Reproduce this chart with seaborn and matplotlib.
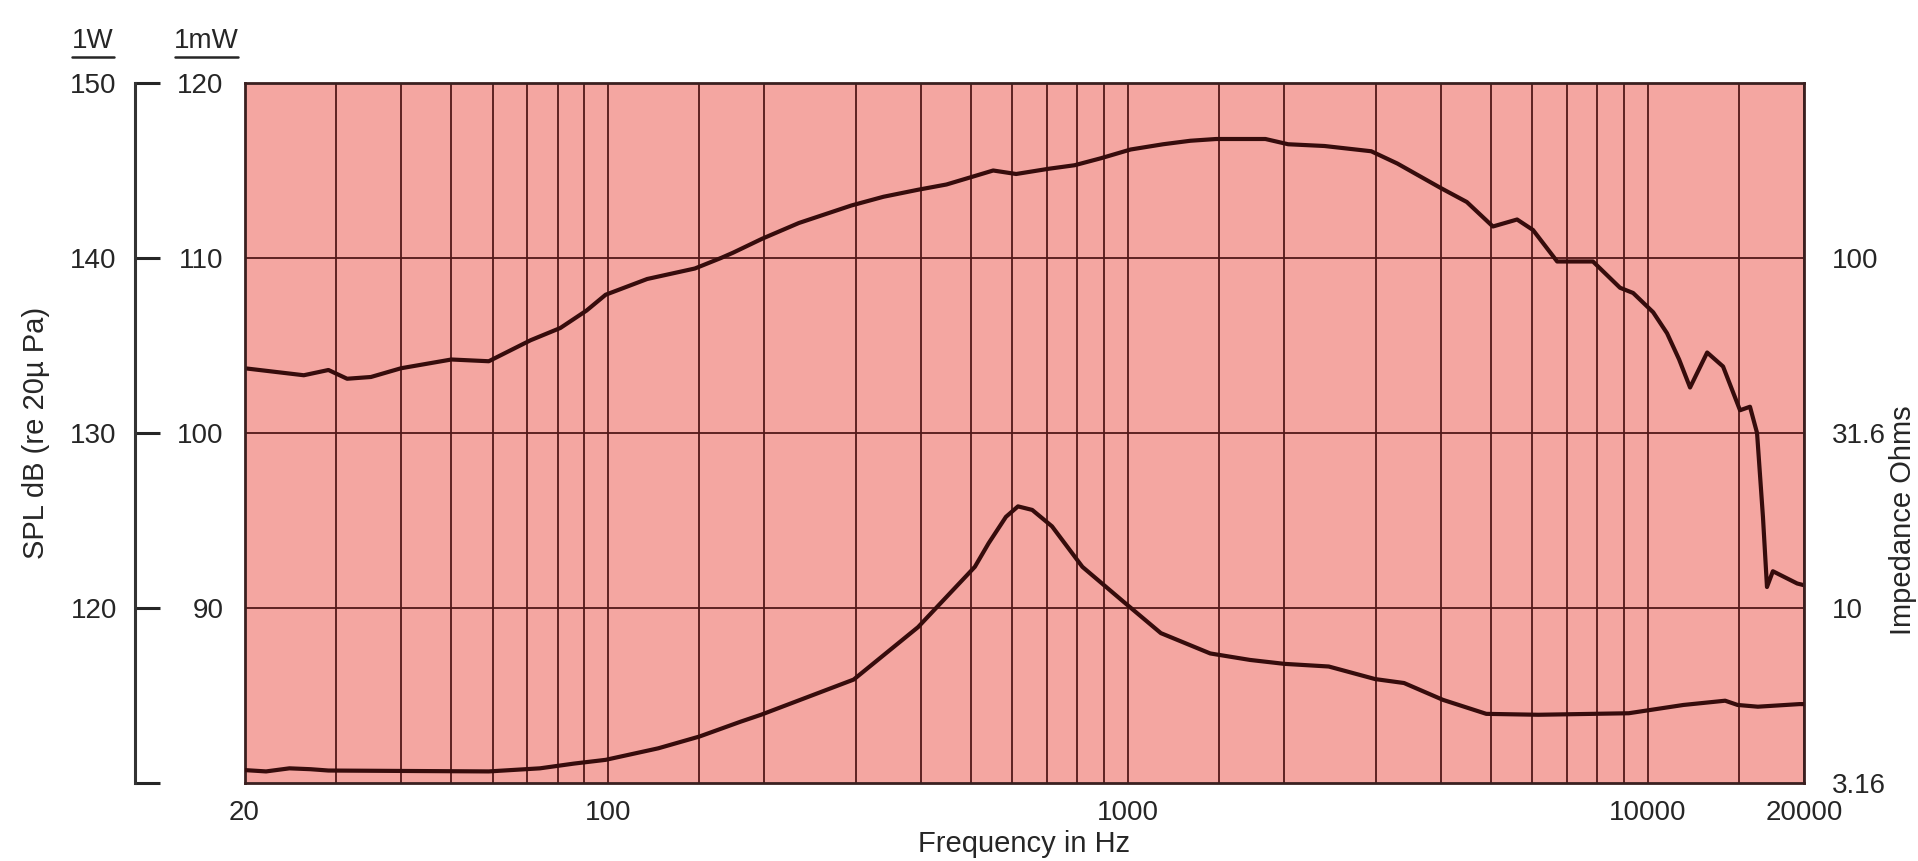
import matplotlib
matplotlib.use("Agg")
import matplotlib.pyplot as plt
import matplotlib.ticker as mticker
from matplotlib.lines import Line2D
import seaborn as sns

# SPL response, in dB on the 1mW scale
spl_freq = [20, 26, 29, 31.5, 35, 40, 50, 59, 71, 81, 91, 99, 119, 147, 165, 174,
            198, 233, 294, 339, 395, 448, 497, 551, 610, 705, 790, 888, 1013, 1170,
            1320, 1480, 1840, 2035, 2390, 2940, 3300, 4000, 4490, 5040, 5610, 6020,
            6700, 7850, 8850, 9380, 10250, 10900, 11500, 12070, 13020, 13970, 15060,
            15740, 16240, 16670, 16970, 17420, 19400, 20000]
spl_db = [103.7, 103.3, 103.6, 103.1, 103.2, 103.7, 104.2, 104.1, 105.3, 106.0, 107.0,
          107.9, 108.8, 109.4, 110.0, 110.3, 111.1, 112.0, 113.0, 113.5, 113.9, 114.2,
          114.6, 115.0, 114.8, 115.1, 115.3, 115.7, 116.2, 116.5, 116.7, 116.8, 116.8,
          116.5, 116.4, 116.1, 115.4, 114.0, 113.2, 111.8, 112.2, 111.6, 109.8, 109.8,
          108.3, 108.0, 106.9, 105.7, 104.2, 102.6, 104.6, 103.8, 101.3, 101.5, 100.0,
          95.2, 91.2, 92.1, 91.4, 91.3]

# impedance magnitude in ohms
imp_freq = [20, 22, 24.4, 26.8, 29, 41, 59, 74, 86, 99, 125, 150, 180, 197, 297, 395,
            508, 540, 583, 615, 655, 715, 818, 990, 1158, 1441, 1719, 2000, 2436, 2992,
            3400, 4040, 4895, 6160, 9200, 10130, 11720, 14100, 14900, 16300, 19600, 20000]
imp_ohms = [3.44, 3.41, 3.48, 3.46, 3.43, 3.42, 3.41, 3.48, 3.59, 3.68, 3.97, 4.29, 4.73,
            4.95, 6.24, 8.81, 13.1, 15.3, 18.2, 19.5, 19.05, 17.1, 13.1, 10.3, 8.47, 7.41,
            7.10, 6.92, 6.80, 6.26, 6.10, 5.46, 4.98, 4.95, 5.00, 5.11, 5.28, 5.43, 5.28,
            5.22, 5.31, 5.31]

x_major = [20, 100, 1000, 10000, 20000]
x_labels = ['20', '100', '1000', '10000', '20000']
x_minor = [30, 40, 50, 60, 70, 80, 90, 150, 200, 300, 400, 500, 600, 700, 800, 900,
           1500, 2000, 3000, 4000, 5000, 6000, 7000, 8000, 9000, 15000]
mw_ticks = [90, 100, 110, 120]
w_ticks = [110, 120, 130, 140, 150]
w_labels = ['', '120', '130', '140', '150']
ohm_ticks = [3.16, 10, 31.6, 100]
ohm_labels = ['3.16', '10', '31.6', '100']

sns.set_style("white")
plt.rcParams['font.family'] = ['Liberation Sans', 'DejaVu Sans']

PINK = '#f4a6a1'
GRID = '#521818'
INK = '#360c0c'
TXT = '#262626'
TICK_FS = 20
LAB_FS = 21

fig = plt.figure(figsize=(19.18, 8.61), dpi=100)
ax = fig.add_axes([0.1275, 0.0906, 0.8131, 0.8130])
ax.set_facecolor(PINK)

sns.lineplot(x=spl_freq, y=spl_db, ax=ax, color=INK, lw=3)
ax.set_xscale('log')
ax.set_xlim(20, 20000)
ax.set_ylim(80, 120)
ax.set_yticks(mw_ticks)
ax.set_yticklabels([str(t) for t in mw_ticks])
for s in ax.spines.values():
    s.set_color('#3a2020')
    s.set_linewidth(2)

# impedance on a log axis at the right
ax2 = ax.twinx()
sns.lineplot(x=imp_freq, y=imp_ohms, ax=ax2, color=INK, lw=3)
ax2.set_yscale('log')
ax2.set_ylim(3.16, 316)
ax2.yaxis.set_major_locator(mticker.FixedLocator(ohm_ticks))
ax2.yaxis.set_major_formatter(mticker.FixedFormatter(ohm_labels))
ax2.yaxis.set_minor_locator(mticker.NullLocator())
ax2.tick_params(axis='y', length=0, labelsize=TICK_FS, colors=TXT, pad=20)
for s in ax2.spines.values():
    s.set_visible(False)

# x ticks / grid set after the twin so they are not reset
ax.xaxis.set_major_locator(mticker.FixedLocator(x_major))
ax.xaxis.set_major_formatter(mticker.FixedFormatter(x_labels))
ax.xaxis.set_minor_locator(mticker.FixedLocator(x_minor))
ax.xaxis.set_minor_formatter(mticker.NullFormatter())
ax.grid(True, which='both', axis='x', color=GRID, lw=1.3)
ax.grid(True, which='major', axis='y', color=GRID, lw=1.3)
ax.tick_params(axis='both', which='both', length=0, labelsize=TICK_FS, colors=TXT)
ax.tick_params(axis='y', pad=15)
ax.tick_params(axis='x', pad=12)

# 1W scale bracket on the far left
sec = ax.secondary_yaxis(-0.0703, functions=(lambda v: v + 30, lambda v: v - 30))
sec.set_yticks(w_ticks)
sec.set_yticklabels(w_labels)
sec.tick_params(direction='in', length=18, width=2.2, labelsize=TICK_FS, colors=TXT, pad=13)
sec.spines['left'].set_linewidth(2.2)
sec.spines['left'].set_color('#333333')

# axis titles
ax.text(-0.1338, 0.5, 'SPL dB (re 20\u00b5 Pa)', transform=ax.transAxes, rotation=90,
        ha='center', va='center', fontsize=LAB_FS, color=TXT)
ax.text(1.0635, 0.376, 'Impedance Ohms', transform=ax.transAxes, rotation=90,
        ha='center', va='center', fontsize=LAB_FS, color=TXT)
ax.text(0.5, -0.087, 'Frequency in Hz', transform=ax.transAxes,
        ha='center', va='center', fontsize=LAB_FS, color=TXT)

# column headers
fig.text(93 / 1918, 1 - 41 / 861, '1W', ha='center', va='center', fontsize=TICK_FS, color=TXT)
fig.text(206 / 1918, 1 - 41 / 861, '1mW', ha='center', va='center', fontsize=TICK_FS, color=TXT)
for x0, x1 in [(72, 114), (175, 238)]:
    fig.add_artist(Line2D([x0 / 1918, x1 / 1918], [1 - 57 / 861, 1 - 57 / 861],
                          transform=fig.transFigure, color=TXT, lw=1.8))

fig.savefig('out.png', dpi=100, facecolor='white')
